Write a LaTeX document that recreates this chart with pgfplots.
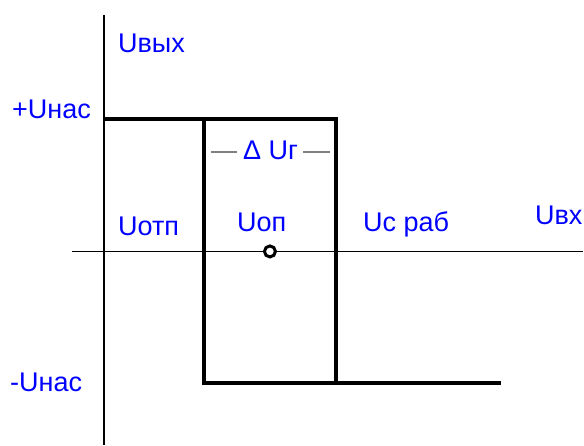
\documentclass[border=0pt]{standalone}
\usepackage{fontspec}
\setmainfont{Liberation Sans}
\usepackage{pgfplots}
\pgfplotsset{compat=1.18}
\definecolor{lbl}{RGB}{0,0,255}

\begin{document}
\begin{tikzpicture}
\begin{axis}[
  scale only axis, width=584pt, height=445pt,
  xmin=0, xmax=584, ymin=0, ymax=445,
  hide axis, clip=false,
  every axis plot/.append style={no markers, black}
]
\path (rel axis cs:0,0) rectangle (rel axis cs:1,1);
% axes
\addplot[line width=1.3pt] coordinates {(104,0) (104,430)};
\addplot[line width=1.3pt] coordinates {(72,193.5) (583.5,193.5)};
% hysteresis loop
\addplot[line width=3.5pt] coordinates {(104,326) (336,326) (336,62) (501,62)};
\addplot[line width=3.5pt] coordinates {(336,62) (204,62) (204,326) (336,326)};
% width marks
\addplot[gray, line width=1.2pt] coordinates {(211,293) (237,293)};
\addplot[gray, line width=1.2pt] coordinates {(303,293) (330,293)};
% switching point
\addplot[only marks, mark=o, mark size=5.5pt, mark options={line width=3pt, fill=white, draw=black}] coordinates {(270,193.5)};
\begin{scope}[every node/.style={text=lbl, font=\fontsize{27}{31}\selectfont, inner sep=0pt, anchor=base west}]
\node at (axis cs:118,392) {Uвых};
\node at (axis cs:12,326) {+Uнас};
\node at (axis cs:10,53) {-Uнас};
\node at (axis cs:118,209) {Uотп};
\node at (axis cs:237,213) {Uоп};
\node at (axis cs:363,213) {Uc раб};
\node at (axis cs:535,220) {Uвх};
\node at (axis cs:243,285) {Δ Uг};
\end{scope}
\end{axis}
\end{tikzpicture}
\end{document}
